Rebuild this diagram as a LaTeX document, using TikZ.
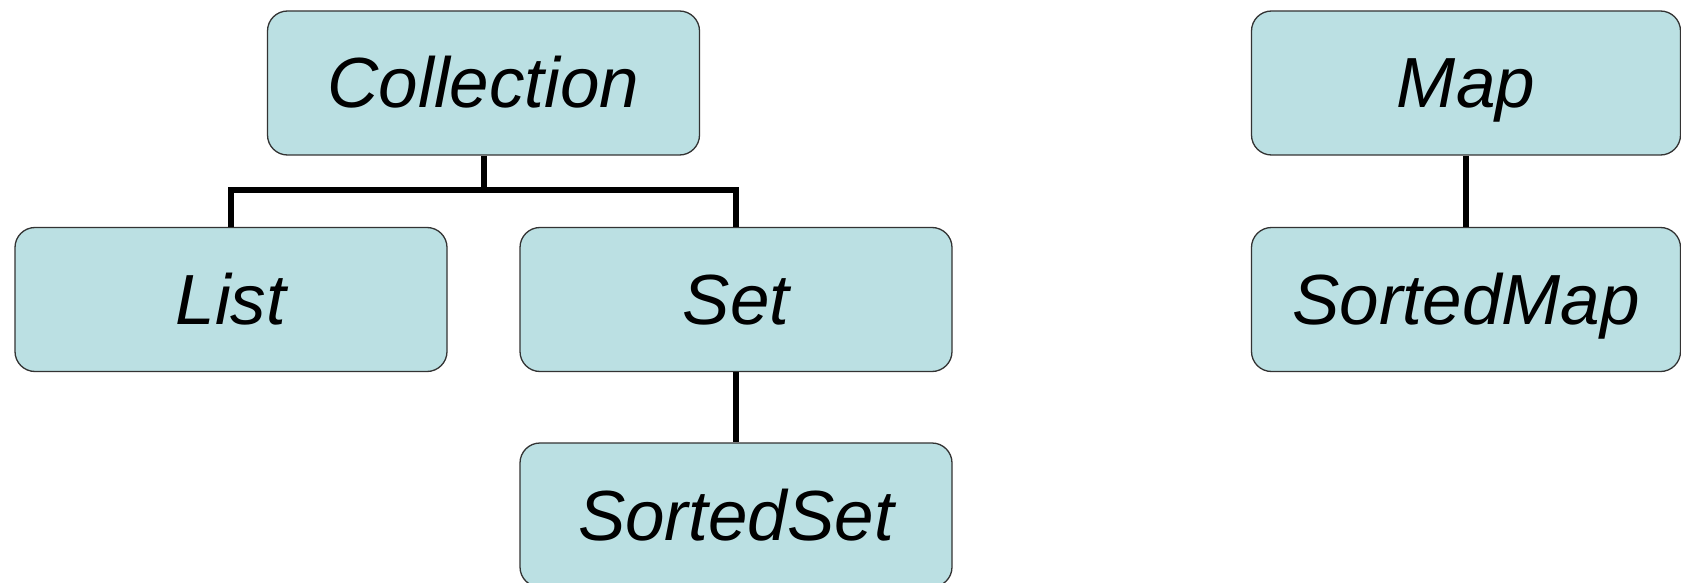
\documentclass[tikz,border=0pt]{standalone}
\usepackage{fontspec}
\setmainfont{Liberation Sans}
\begin{document}
\begin{tikzpicture}[x=1pt,y=-1pt,
  box/.style={draw=black!80, line width=1.3pt, fill=boxfill, rounded corners=20pt,
    minimum width=432pt, minimum height=144pt, inner sep=0pt,
    text height=50pt, text depth=0pt,
    font=\fontsize{71}{85}\selectfont\itshape},
  link/.style={line width=6pt, draw=black}]
\definecolor{boxfill}{RGB}{187,224,227}
\useasboundingbox (0,0) rectangle (1681,583);
\node[box] (coll) at (483.5,83) {Collection};
\node[box] (list) at (231,299.5) {List};
\node[box] (set) at (736,299.5) {Set};
\node[box] (sset) at (736,515) {SortedSet};
\node[box, minimum width=429pt] (map) at (1466,83) {Map};
\node[box, minimum width=429pt] (smap) at (1466,299.5) {SortedMap};
\coordinate (j) at (483.5,190);
\draw[link] (coll.south) -- (j);
\draw[link] (list.north) |- (j) -| (set.north);
\draw[link] (set.south) -- (sset.north);
\draw[link] (map.south) -- (smap.north);
\end{tikzpicture}
\end{document}
